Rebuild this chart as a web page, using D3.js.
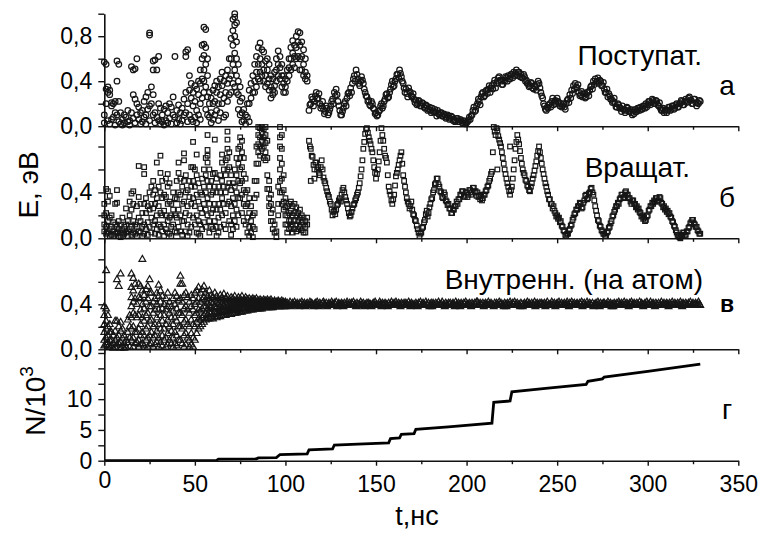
<!DOCTYPE html>
<html>
<head>
<meta charset="utf-8">
<script src="https://cdn.jsdelivr.net/npm/d3@7"></script>
<style>
  body { margin: 0; background: #fff; }
  svg { display: block; font-family: "Liberation Sans", Arial, sans-serif; }
</style>
</head>
<body>
<svg id="chart" width="766" height="538"></svg>
<script>
// ---- data ----
// early, scattered part: one column of values per ns, index = t
const transEarly = [
  [0.57,0.1,0.03],[0.55,0.33,0.2],[0.35,0.3,0.05],[0.32,0.28,0.02],[0.21,0.18,0.06],[0.2,0.08],[0.22,0.12,0.01],[0.58,0.4,0.1],[0.55,0.22,0.04],[0.12,0.02],
  [0.06,0.01],[0.1,0.03],[0.08],[0.14,0.04],[0.05,0.01],[0.53,0.12],[0.5,0.28,0.07],[0.51,0.24,0.03],[0.6,0.2,0.1],[0.17,0.06],
  [0.12,0.02],[0.14,0.04],[0.22,0.08],[0.26,0.1,0.02],[0.3,0.15],[0.83,0.81,0.18,0.05],[0.35,0.2],[0.58,0.5,0.28,0.1],[0.59,0.12,0.03],[0.5,0.08],
  [0.62,0.2,0.05],[0.16,0.02],[0.1,0.04],[0.15,0.01],[0.18,0.05],[0.12,0.03],[0.2,0.07],[0.17,0.02],[0.26,0.1],[0.62,0.08],
  [0.14,0.03],[0.19,0.06],[0.12,0.02],[0.16,0.05],[0.24,0.1],[0.66,0.62,0.3,0.12],[0.68,0.2,0.04],[0.45,0.32,0.1],[0.38,0.25,0.06],[0.3,0.18,0.04],
  [0.36,0.22,0.08],[0.33,0.14,0.03],[0.4,0.28,0.1],[0.5,0.38,0.2,0.06],[0.72,0.6,0.42,0.25],[0.88,0.73,0.63,0.5,0.4,0.3],[0.86,0.7,0.55,0.35,0.15],[0.6,0.45,0.26,0.1],[0.3,0.2,0.08],[0.25,0.12,0.03],
  [0.32,0.2,0.06],[0.36,0.22,0.1],[0.4,0.3,0.14],[0.35,0.2,0.05],[0.42,0.28,0.12],[0.48,0.36,0.2],[0.4,0.25,0.08],[0.45,0.3,0.1],[0.5,0.38,0.22],[0.6,0.42,0.28],
  [0.78,0.6,0.45,0.3],[0.95,0.85,0.72,0.55,0.38],[1.0,0.97,0.9,0.8,0.65,0.5,0.35],[0.92,0.75,0.6,0.45,0.3],[0.55,0.4,0.28,0.15],[0.35,0.22,0.1],[0.25,0.12,0.04],[0.15,0.05],[0.1,0.02],[0.2,0.08],
  [0.32,0.2,0.04],[0.38,0.25],[0.45,0.3],[0.55,0.4,0.3],[0.62,0.48,0.35],[0.7,0.55,0.42],[0.74,0.6,0.48,0.4],[0.68,0.55,0.45],[0.66,0.5,0.4],[0.58,0.45,0.35],
  [0.6,0.5,0.38],[0.55,0.42,0.32],[0.45,0.35,0.25],[0.42,0.32,0.28],[0.48,0.36,0.3],[0.6,0.5,0.4],[0.67,0.55,0.45],[0.62,0.52,0.42],[0.55,0.45,0.35],[0.45,0.38,0.3],
  [0.42,0.35,0.3],[0.5,0.4],[0.6,0.52,0.45],[0.7,0.6,0.5],[0.76,0.65,0.55],[0.72,0.62,0.52],[0.8,0.7,0.6],[0.84,0.75,0.62],[0.83,0.72,0.6,0.5],[0.75,0.62,0.5],
  [0.68,0.55,0.45],[0.6,0.48,0.42],[0.45,0.4]
];
// later, continuous part: one value every half ns from traceStart
const traceStep = 0.5;
const transTraceStart = 113;
const transTrace = [
  0.14,0.19,0.2,0.26,0.24,0.18,0.22,0.27,0.3,0.24,
  0.25,0.29,0.2,0.16,0.18,0.22,0.15,0.11,0.13,0.18,
  0.16,0.1,0.12,0.15,0.18,0.22,0.24,0.2,0.3,0.27,
  0.33,0.28,0.22,0.18,0.14,0.1,0.1,0.13,0.16,0.2,
  0.22,0.18,0.25,0.29,0.3,0.27,0.34,0.3,0.38,0.42,
  0.45,0.4,0.5,0.46,0.42,0.38,0.36,0.4,0.44,0.41,
  0.38,0.33,0.3,0.27,0.26,0.22,0.23,0.19,0.18,0.22,
  0.2,0.16,0.15,0.11,0.12,0.09,0.1,0.13,0.14,0.18,
  0.2,0.16,0.18,0.22,0.24,0.28,0.29,0.25,0.26,0.3,
  0.33,0.37,0.4,0.35,0.36,0.4,0.42,0.46,0.46,0.43,
  0.5,0.47,0.44,0.4,0.38,0.34,0.3,0.33,0.29,0.26,
  0.34,0.31,0.3,0.27,0.26,0.29,0.24,0.21,0.23,0.19,
  0.2,0.23,0.22,0.18,0.18,0.21,0.2,0.17,0.16,0.19,
  0.18,0.14,0.15,0.17,0.14,0.12,0.16,0.13,0.13,0.15,
  0.12,0.09,0.14,0.11,0.1,0.12,0.12,0.09,0.09,0.11,
  0.1,0.07,0.08,0.1,0.09,0.06,0.07,0.09,0.08,0.05,
  0.06,0.04,0.05,0.07,0.07,0.04,0.04,0.06,0.05,0.03,
  0.03,0.05,0.04,0.02,0.03,0.04,0.05,0.08,0.06,0.09,
  0.1,0.14,0.17,0.13,0.14,0.18,0.2,0.24,0.22,0.19,
  0.26,0.29,0.3,0.26,0.27,0.31,0.32,0.29,0.33,0.36,
  0.3,0.34,0.36,0.33,0.38,0.41,0.34,0.38,0.4,0.43,
  0.44,0.41,0.4,0.37,0.37,0.41,0.4,0.44,0.43,0.4,
  0.45,0.42,0.42,0.46,0.46,0.43,0.48,0.45,0.47,0.5,
  0.45,0.48,0.48,0.44,0.46,0.43,0.43,0.46,0.44,0.4,
  0.41,0.38,0.38,0.35,0.36,0.39,0.38,0.34,0.33,0.36,
  0.35,0.32,0.37,0.4,0.38,0.34,0.3,0.27,0.25,0.2,
  0.18,0.15,0.14,0.17,0.16,0.19,0.2,0.17,0.22,0.25,
  0.19,0.22,0.23,0.2,0.25,0.22,0.21,0.18,0.2,0.17,
  0.18,0.2,0.17,0.15,0.2,0.23,0.24,0.21,0.28,0.25,
  0.32,0.29,0.36,0.33,0.38,0.35,0.34,0.37,0.3,0.27,
  0.28,0.31,0.26,0.29,0.29,0.25,0.26,0.3,0.3,0.27,
  0.32,0.35,0.36,0.33,0.4,0.37,0.42,0.39,0.4,0.43,
  0.38,0.41,0.4,0.36,0.36,0.39,0.33,0.3,0.3,0.33,
  0.26,0.29,0.27,0.24,0.24,0.21,0.22,0.25,0.2,0.17,
  0.17,0.2,0.19,0.16,0.16,0.13,0.18,0.15,0.15,0.12,
  0.14,0.17,0.16,0.13,0.13,0.15,0.12,0.1,0.14,0.11,
  0.15,0.13,0.13,0.16,0.16,0.14,0.17,0.15,0.15,0.18,
  0.18,0.16,0.2,0.17,0.19,0.22,0.22,0.19,0.21,0.24,
  0.23,0.2,0.2,0.23,0.22,0.19,0.18,0.21,0.16,0.14,
  0.14,0.16,0.12,0.14,0.15,0.12,0.14,0.17,0.17,0.14,
  0.15,0.18,0.18,0.15,0.16,0.19,0.2,0.17,0.17,0.2,
  0.2,0.23,0.22,0.19,0.19,0.22,0.24,0.21,0.22,0.25,
  0.26,0.23,0.23,0.2,0.2,0.24,0.24,0.21,0.18,0.21,
  0.2,0.23,0.22
];

const rotEarly = [
  [0.3,0.2,0.12,0.06],[0.43,0.22,0.1,0.04],[0.41,0.32,0.15,0.05],[0.37,0.18,0.08,0.02],[0.2,0.1,0.03],[0.14,0.06,0.02],[0.3,0.12,0.04],[0.42,0.31,0.1,0.05],[0.15,0.08,0.02],[0.12,0.05,0.01],
  [0.18,0.07,0.03],[0.1,0.04],[0.26,0.12,0.05],[0.15,0.06,0.02],[0.32,0.2,0.08],[0.39,0.25,0.1,0.03],[0.41,0.3,0.15,0.05],[0.12,0.04],[0.28,0.1,0.02],[0.63,0.36,0.18,0.06],
  [0.3,0.15,0.05],[0.22,0.1,0.02],[0.62,0.56,0.3,0.12,0.04],[0.35,0.22,0.08],[0.28,0.14,0.03],[0.4,0.25,0.1],[0.45,0.3,0.18,0.05],[0.5,0.38,0.26,0.12],[0.42,0.3,0.15,0.04],[0.66,0.35,0.2,0.08],
  [0.45,0.28,0.12,0.03],[0.72,0.57,0.4,0.22,0.1],[0.5,0.35,0.2,0.06],[0.38,0.24,0.12,0.02],[0.52,0.36,0.2,0.08],[0.56,0.45,0.3,0.15,0.05],[0.48,0.32,0.18,0.04],[0.3,0.2,0.1,0.02],[0.4,0.25,0.12],[0.35,0.2,0.06],
  [0.5,0.34,0.18,0.05],[0.66,0.57,0.4,0.25,0.1],[0.52,0.38,0.2,0.06],[0.45,0.3,0.15,0.03],[0.74,0.68,0.5,0.32,0.15],[0.55,0.4,0.22,0.06],[0.42,0.28,0.12,0.02],[0.5,0.36,0.2,0.05],[0.62,0.45,0.3,0.1],[0.84,0.62,0.5,0.35,0.18],
  [0.6,0.45,0.28,0.12],[0.73,0.55,0.38,0.2,0.05],[0.48,0.32,0.15,0.04],[0.4,0.26,0.12,0.02],[0.52,0.38,0.22,0.08],[0.6,0.45,0.3,0.14],[0.7,0.55,0.4,0.25,0.1],[0.9,0.77,0.72,0.66,0.5,0.35,0.2],[0.6,0.45,0.3,0.15,0.05],[0.5,0.38,0.22,0.1],
  [0.56,0.4,0.25,0.08],[0.86,0.57,0.45,0.3,0.15],[0.52,0.4,0.25,0.1,0.02],[0.45,0.3,0.18,0.05],[0.55,0.4,0.25,0.1],[0.73,0.66,0.5,0.35,0.2],[0.6,0.45,0.3,0.12],[0.68,0.55,0.4,0.22,0.08],[0.93,0.86,0.78,0.7,0.6,0.45,0.3],[0.75,0.62,0.48,0.32,0.15],
  [0.55,0.42,0.28,0.12,0.03],[0.48,0.35,0.2,0.08],[0.6,0.45,0.3,0.15],[0.7,0.55,0.4,0.25,0.1],[0.78,0.65,0.5,0.35,0.2],[0.88,0.8,0.7,0.6,0.48,0.35],[0.85,0.75,0.62,0.5,0.38,0.22],[0.7,0.56,0.42,0.3,0.15],[0.52,0.4,0.28,0.12],[0.42,0.3,0.18,0.05],
  [0.35,0.22,0.1,0.02],[0.28,0.15,0.05],[0.2,0.1,0.01],[0.5,0.35,0.22,0.08],[0.8,0.65,0.5,0.38],[0.97,0.9,0.82,0.75,0.65],[0.96,0.88,0.8,0.72],[0.97,0.92,0.85,0.78],[0.95,0.88,0.8,0.7],[0.97,0.9,0.83,0.75,0.68],
  [0.85,0.7,0.55,0.43],[0.5,0.43,0.35,0.28],[0.38,0.3,0.22,0.15],[0.25,0.15,0.08],[0.12,0.05],[0.06,0.01],[0.45,0.3,0.2],[0.97,0.88,0.8,0.7,0.6,0.5,0.4],[0.9,0.78,0.65,0.52,0.4,0.3],[0.55,0.42,0.32,0.25],
  [0.35,0.27,0.2,0.12],[0.28,0.2,0.12,0.05],[0.3,0.22,0.15,0.08],[0.32,0.24,0.16,0.1],[0.28,0.2,0.12,0.05],[0.3,0.22,0.15,0.08],[0.27,0.2,0.12,0.06],[0.22,0.15,0.08],[0.25,0.18,0.1],[0.2,0.14,0.07],
  [0.18,0.12,0.05],[0.15,0.1,0.05],[0.18,0.12]
];
const rotTraceStart = 113;
const rotTrace = [
  0.85,0.8,0.78,0.72,0.71,0.64,0.6,0.66,0.66,0.6,
  0.62,0.57,0.55,0.62,0.68,0.6,0.53,0.5,0.48,0.44,
  0.41,0.38,0.36,0.32,0.3,0.25,0.2,0.23,0.24,0.21,
  0.25,0.29,0.3,0.33,0.35,0.32,0.38,0.42,0.44,0.4,
  0.36,0.33,0.3,0.26,0.22,0.19,0.2,0.23,0.26,0.29,
  0.3,0.33,0.35,0.38,0.4,0.44,0.48,0.54,0.6,0.68,
  0.78,0.84,0.91,0.95,0.96,0.92,0.88,0.85,0.82,0.78,
  0.75,0.68,0.62,0.57,0.52,0.56,0.6,0.67,0.75,0.85,
  0.96,0.9,0.85,0.78,0.72,0.7,0.66,0.55,0.45,0.41,
  0.38,0.33,0.3,0.34,0.38,0.46,0.54,0.57,0.6,0.64,
  0.68,0.72,0.75,0.65,0.55,0.5,0.45,0.4,0.35,0.32,
  0.3,0.26,0.28,0.32,0.25,0.21,0.2,0.16,0.15,0.11,
  0.08,0.05,0.02,0.04,0.05,0.09,0.1,0.14,0.16,0.21,
  0.24,0.19,0.22,0.27,0.3,0.34,0.35,0.4,0.42,0.47,
  0.48,0.52,0.52,0.47,0.45,0.41,0.4,0.36,0.35,0.4,
  0.38,0.33,0.32,0.29,0.3,0.26,0.26,0.22,0.22,0.25,
  0.25,0.28,0.28,0.32,0.3,0.34,0.34,0.38,0.38,0.41,
  0.41,0.37,0.36,0.4,0.4,0.36,0.38,0.42,0.42,0.38,
  0.4,0.44,0.44,0.41,0.41,0.37,0.4,0.36,0.37,0.34,
  0.38,0.33,0.35,0.38,0.38,0.41,0.42,0.45,0.46,0.5,
  0.52,0.56,0.58,0.75,0.97,0.93,0.9,0.96,0.94,0.89,
  0.86,0.83,0.8,0.75,0.7,0.65,0.6,0.56,0.52,0.48,
  0.45,0.41,0.38,0.42,0.45,0.52,0.6,0.68,0.78,0.84,
  0.9,0.86,0.82,0.76,0.7,0.65,0.6,0.57,0.55,0.51,
  0.5,0.46,0.45,0.42,0.41,0.45,0.48,0.52,0.55,0.59,
  0.63,0.67,0.72,0.76,0.8,0.75,0.7,0.65,0.6,0.56,
  0.52,0.48,0.45,0.41,0.38,0.34,0.34,0.3,0.3,0.26,
  0.28,0.24,0.22,0.19,0.2,0.17,0.18,0.14,0.15,0.11,
  0.1,0.07,0.06,0.03,0.02,0.04,0.04,0.07,0.08,0.11,
  0.12,0.16,0.18,0.21,0.22,0.25,0.25,0.28,0.28,0.31,
  0.3,0.26,0.27,0.31,0.33,0.37,0.38,0.34,0.35,0.39,
  0.4,0.43,0.44,0.4,0.38,0.33,0.28,0.24,0.2,0.16,
  0.15,0.11,0.1,0.07,0.06,0.04,0.04,0.02,0.02,0.05,
  0.06,0.09,0.1,0.13,0.15,0.19,0.2,0.23,0.25,0.28,
  0.28,0.31,0.3,0.34,0.35,0.38,0.38,0.35,0.36,0.4,
  0.41,0.38,0.38,0.35,0.35,0.32,0.3,0.33,0.33,0.3,
  0.3,0.27,0.28,0.25,0.26,0.23,0.22,0.19,0.2,0.17,
  0.18,0.15,0.16,0.19,0.2,0.24,0.25,0.28,0.28,0.31,
  0.3,0.33,0.32,0.35,0.35,0.32,0.33,0.36,0.35,0.31,
  0.3,0.27,0.28,0.25,0.26,0.23,0.24,0.21,0.22,0.19,
  0.18,0.15,0.14,0.11,0.1,0.07,0.05,0.03,0.02,0.01,
  0.0,0.02,0.03,0.05,0.05,0.03,0.03,0.06,0.06,0.09,
  0.1,0.13,0.14,0.16,0.16,0.13,0.12,0.1,0.1,0.07,
  0.06,0.04,0.04
];
const rotExtra = [[217, 0.6], [224, 0.8], [114, 0.5], [116, 0.52]];

const innerEarly = [
  [0.38,0.3,0.22,0.15,0.08,0.03],[0.7,0.36,0.25,0.18,0.1,0.04],[0.3,0.2,0.12,0.06,0.02],[0.22,0.15,0.08,0.02],[0.15,0.08,0.03],[0.12,0.05,0.01],[0.25,0.16,0.08,0.02],[0.62,0.25,0.1,0.04],[0.56,0.2,0.12,0.05],[0.67,0.24,0.16,0.06,0.01],
  [0.18,0.1,0.03],[0.12,0.05,0.01],[0.08,0.02],[0.26,0.15,0.06],[0.3,0.2,0.1,0.02],[0.67,0.55,0.46,0.38,0.28,0.18,0.08],[0.63,0.52,0.42,0.32,0.2,0.1,0.02],[0.58,0.45,0.3,0.15,0.05],[0.4,0.28,0.15,0.06],[0.58,0.46,0.3,0.18,0.08,0.02],
  [0.56,0.45,0.35,0.22,0.12,0.04],[0.8,0.52,0.4,0.28,0.15,0.05],[0.48,0.36,0.25,0.12,0.03],[0.53,0.42,0.3,0.18,0.08],[0.56,0.45,0.32,0.2,0.1,0.02],[0.62,0.5,0.38,0.25,0.12,0.04],[0.5,0.38,0.26,0.15,0.05],[0.42,0.32,0.2,0.1,0.02],[0.45,0.35,0.22,0.12,0.04],[0.5,0.4,0.28,0.16,0.06],
  [0.57,0.47,0.35,0.22,0.1,0.02],[0.52,0.42,0.3,0.18,0.06],[0.47,0.36,0.25,0.12,0.03],[0.4,0.3,0.18,0.08],[0.45,0.35,0.22,0.1,0.02],[0.5,0.38,0.26,0.14,0.04],[0.42,0.32,0.2,0.08],[0.38,0.28,0.16,0.05],[0.45,0.34,0.22,0.1,0.02],[0.5,0.4,0.28,0.15,0.05],
  [0.47,0.36,0.25,0.12,0.03],[0.43,0.32,0.2,0.08],[0.65,0.58,0.45,0.32,0.2,0.08],[0.58,0.42,0.3,0.18,0.05],[0.48,0.36,0.24,0.12,0.02],[0.5,0.38,0.26,0.14,0.04],[0.46,0.35,0.22,0.1],[0.42,0.32,0.2,0.08,0.02],[0.48,0.38,0.26,0.14,0.04],[0.45,0.35,0.22,0.1,0.02],
  [0.5,0.4,0.3,0.2,0.08],[0.52,0.42,0.32,0.24,0.14],[0.55,0.45,0.35,0.27,0.18],[0.5,0.42,0.34,0.26,0.2],[0.53,0.44,0.36,0.28,0.22],[0.56,0.46,0.38,0.3,0.24],[0.5,0.44,0.38,0.32,0.26],[0.47,0.41,0.36,0.31,0.27],[0.52,0.45,0.39,0.33,0.27],[0.48,0.42,0.37,0.32,0.28],
  [0.46,0.41,0.36,0.31,0.27],[0.5,0.44,0.38,0.33,0.29],[0.47,0.42,0.37,0.32,0.28],[0.45,0.4,0.36,0.32,0.29],[0.48,0.43,0.38,0.33,0.29],[0.46,0.41,0.37,0.33,0.3],[0.49,0.44,0.39,0.34,0.3],[0.45,0.41,0.37,0.33,0.3],[0.47,0.43,0.38,0.34,0.31],[0.44,0.4,0.37,0.34,0.31],
  [0.46,0.42,0.38,0.35,0.31],[0.45,0.41,0.38,0.35,0.32],[0.47,0.43,0.39,0.35,0.32],[0.44,0.41,0.38,0.35,0.32],[0.46,0.42,0.39,0.36,0.33],[0.45,0.42,0.39,0.36,0.33],[0.47,0.43,0.4,0.37,0.33],[0.44,0.41,0.39,0.36,0.34],[0.46,0.43,0.4,0.37,0.34],[0.44,0.41,0.39,0.37,0.34],
  [0.45,0.42,0.4,0.37,0.35],[0.44,0.42,0.39,0.37,0.35],[0.45,0.43,0.4,0.38,0.35],[0.44,0.42,0.4,0.38,0.36],[0.45,0.42,0.4,0.38,0.36],[0.43,0.41,0.39,0.37,0.36],[0.44,0.42,0.4,0.38,0.36],[0.43,0.41,0.39,0.38,0.36],[0.44,0.42,0.4,0.38,0.37],[0.43,0.41,0.4,0.38,0.37],
  [0.44,0.42,0.4,0.39,0.37],[0.43,0.41,0.4,0.38,0.37],[0.44,0.42,0.4,0.39,0.37],[0.42,0.41,0.4,0.38,0.37],[0.43,0.42,0.4,0.39,0.38],[0.42,0.41,0.4,0.39,0.38],[0.43,0.42,0.4,0.39,0.38],[0.42,0.41,0.4,0.39,0.38],[0.43,0.41,0.4,0.39,0.38],[0.42,0.41,0.4,0.39,0.38],
  [0.42,0.41,0.4,0.39,0.38]
];
const innerTraceStart = 101;
const innerTrace = [
  0.41,0.39,0.40,0.42,0.38,0.40,0.41,0.39,0.42,0.40,
  0.39,0.41,0.40,0.38,0.41,0.40,0.42,0.39,0.40,0.41,
  0.38,0.40,0.41,0.39,0.40,0.42,0.39,0.41,0.40,0.38,
  0.40,0.41,0.39,0.42,0.40,0.38,0.41,0.40,0.39,0.41,
  0.42,0.40,0.39,0.41,0.38,0.40,0.41,0.39,0.40,0.42,
  0.40,0.39,0.41,0.40,0.42,0.38,0.40,0.41,0.39,0.40,
  0.41,0.40,0.38,0.41,0.39,0.40,0.42,0.40,0.39,0.41,
  0.39,0.41,0.40,0.42,0.39,0.40,0.38,0.41,0.40,0.39,
  0.40,0.42,0.39,0.40,0.41,0.38,0.40,0.39,0.41,0.40,
  0.41,0.39,0.40,0.38,0.40,0.41,0.39,0.42,0.40,0.39,
  0.39,0.40,0.42,0.40,0.38,0.41,0.40,0.39,0.41,0.40,
  0.40,0.38,0.41,0.39,0.40,0.42,0.39,0.40,0.41,0.39,
  0.42,0.40,0.39,0.41,0.40,0.38,0.41,0.40,0.39,0.41,
  0.39,0.41,0.40,0.39,0.42,0.40,0.38,0.41,0.40,0.39,
  0.40,0.39,0.41,0.40,0.38,0.41,0.40,0.42,0.39,0.40,
  0.41,0.40,0.39,0.42,0.40,0.39,0.41,0.38,0.40,0.41,
  0.38,0.41,0.40,0.39,0.41,0.40,0.39,0.42,0.40,0.39,
  0.40,0.42,0.39,0.40,0.38,0.41,0.40,0.39,0.41,0.40,
  0.41,0.39,0.40,0.41,0.40,0.38,0.42,0.40,0.39,0.41,
  0.40,0.38,0.41,0.40,0.39,0.41,0.40,0.42,0.39,0.40,
  0.39,0.41,0.40,0.38,0.41,0.40,0.39,0.41,0.40,0.42,
  0.42,0.40,0.39,0.41,0.40,0.39,0.41,0.38,0.40,0.41,
  0.40,0.39,0.42,0.40,0.39,0.41,0.40,0.39,0.38,0.41,
  0.39,0.41,0.40,0.39,0.42,0.40,0.41,0.39,0.40,0.38,
  0.41,0.40,0.38,0.41,0.40,0.39,0.42,0.40,0.39,0.41,
  0.40,0.42,0.39,0.40,0.41,0.39,0.40,0.38,0.41,0.40,
  0.38,0.40,0.41,0.39,0.40,0.42,0.39,0.41,0.40,0.39,
  0.41,0.39,0.40,0.42,0.38,0.40,0.41,0.40,0.39,0.41,
  0.40,0.41,0.39,0.40,0.41,0.38,0.40,0.42,0.39,0.40,
  0.39,0.40,0.42,0.39,0.40,0.41,0.38,0.40,0.41,0.39,
  0.42,0.40,0.39,0.41,0.39,0.40,0.41,0.39,0.40,0.42,
  0.40,0.38,0.41,0.40,0.42,0.39,0.40,0.41,0.39,0.40,
  0.41,0.40,0.39,0.41,0.40,0.42,0.38,0.40,0.41,0.39,
  0.39,0.42,0.40,0.39,0.41,0.40,0.39,0.41,0.38,0.40,
  0.40,0.41,0.39,0.42,0.40,0.38,0.41,0.39,0.40,0.41,
  0.41,0.39,0.40,0.40,0.42,0.39,0.40,0.41,0.38,0.40,
  0.38,0.41,0.40,0.39,0.41,0.40,0.42,0.40,0.39,0.41,
  0.40,0.39,0.42,0.40,0.39,0.41,0.40,0.38,0.41,0.40,
  0.42,0.40,0.39,0.41,0.40,0.39,0.41,0.40,0.39,0.42,
  0.39,0.41,0.40,0.38,0.40,0.41,0.39,0.42,0.40,0.39,
  0.40,0.42,0.39,0.40,0.41,0.40,0.38,0.41,0.40,0.39,
  0.41,0.39,0.40,0.42,0.39,0.40,0.41,0.39,0.40,0.41,
  0.40,0.38,0.41,0.40,0.39,0.42,0.40,0.39,0.41,0.40,
  0.39,0.41,0.40,0.39,0.42,0.40,0.38,0.41,0.40,0.39,
  0.41,0.40,0.39,0.41,0.40,0.42,0.39,0.40,0.41,0.39,
  0.40,0.41,0.39,0.40,0.42,0.40,0.39
];

// number of ejected molecules, thousands
const countT = [0, 62, 63, 84, 85, 95, 97, 112, 113, 126, 127, 140, 157, 158, 163, 164, 171, 172, 190, 214, 215, 224, 225, 245, 266, 267, 275, 276, 300, 329];
const countN = [0, 0.05, 0.25, 0.3, 0.45, 0.5, 1.0, 1.1, 1.75, 1.9, 2.55, 2.7, 2.9, 3.6, 3.7, 4.3, 4.4, 5.1, 5.5, 6.1, 9.5, 9.7, 11.2, 11.8, 12.4, 12.9, 13.3, 13.6, 14.5, 15.7];

const xTicks = [0, 25, 50, 75, 100, 125, 150, 175, 200, 225, 250, 275, 300, 325, 350];
const xLabels = [0, 50, 100, 150, 200, 250, 300, 350];
const eTicks = [0, 0.2, 0.4, 0.6, 0.8, 1.0];
const eLabelsTop = [0, 0.4, 0.8];
const eLabels = [0, 0.4];
const nTicks = [0, 2.5, 5, 7.5, 10, 12.5, 15, 17.5];
const nLabels = [0, 5, 10];

// ---- drawing ----
const svg = d3.select('#chart');
const ink = '#111';
const markStroke = '#161616';

const x = d3.scaleLinear().domain([0, 350]).range([104.3, 738.3]);

const yA = d3.scaleLinear().domain([0, 1]).range([126.2, 13.7]);
const yB = d3.scaleLinear().domain([0, 0.977]).range([238.3, 126.2]);
const yC = d3.scaleLinear().domain([0, 0.987]).range([349.3, 238.3]);
const yD = d3.scaleLinear().domain([0, 18.1]).range([460.7, 349.3]);

// columns + trace -> list of [t, value]
function toPoints(early, traceStart, trace, extra) {
  const pts = [];
  early.forEach((col, t) => col.forEach((v) => pts.push([t, v])));
  trace.forEach((v, i) => pts.push([traceStart + i * traceStep, v]));
  (extra || []).forEach((p) => pts.push(p));
  return pts;
}

const transPts = toPoints(transEarly, transTraceStart, transTrace);
const rotPts = toPoints(rotEarly, rotTraceStart, rotTrace, rotExtra);
const innerPts = toPoints(innerEarly, innerTraceStart, innerTrace);

const fmtE = (labels) => (d) => (labels.includes(d) ? d3.format('.1f')(d).replace('.', ',') : '');

function leftAxis(y, ticks, format) {
  const g = svg.append('g').attr('transform', `translate(${x(0)},0)`);
  g.call(d3.axisLeft(y).tickValues(ticks).tickSize(6).tickSizeOuter(0).tickPadding(6).tickFormat(format));
  g.select('.domain').attr('stroke', ink).attr('stroke-width', 1.6);
  g.selectAll('.tick line').attr('stroke', ink).attr('stroke-width', 1.4);
  g.selectAll('.tick text').attr('font-size', 23).attr('fill', '#000').attr('font-family', 'Liberation Sans, Arial, sans-serif');
  return g;
}

function bottomAxis(y0, withLabels) {
  const g = svg.append('g').attr('transform', `translate(0,${y0})`);
  g.call(d3.axisBottom(x).tickValues(xTicks).tickSize(5).tickSizeOuter(0)
    .tickFormat((d) => (withLabels && xLabels.includes(d) ? d : '')));
  g.select('.domain').attr('stroke', ink).attr('stroke-width', 1.6);
  g.selectAll('.tick line').attr('stroke', ink).attr('stroke-width', 1.4)
    .attr('y2', (d) => (d % 50 === 0 ? 5 : 3.5));
  g.selectAll('.tick text').attr('font-size', 23).attr('fill', '#000')
    .attr('font-family', 'Liberation Sans, Arial, sans-serif')
    .attr('y', (d) => (d === 0 ? 11 : 15));
  return g;
}

// panel а: circles
svg.append('g').selectAll('circle').data(transPts).join('circle')
  .attr('cx', (d) => x(d[0])).attr('cy', (d) => yA(d[1])).attr('r', 2.8)
  .attr('fill', 'none').attr('stroke', markStroke).attr('stroke-width', 1.25);

// panel б: squares
svg.append('g').selectAll('rect').data(rotPts).join('rect')
  .attr('x', (d) => x(d[0]) - 2.3).attr('y', (d) => yB(d[1]) - 2.3)
  .attr('width', 4.6).attr('height', 4.6)
  .attr('fill', 'none').attr('stroke', markStroke).attr('stroke-width', 1.2);

// panel в: triangles
const tri = d3.symbol().type(d3.symbolTriangle).size(20);
svg.append('g').selectAll('path').data(innerPts).join('path')
  .attr('d', tri)
  .attr('transform', (d) => `translate(${x(d[0])},${yC(d[1])})`)
  .attr('fill', 'none').attr('stroke', markStroke).attr('stroke-width', 1.2);

// panel г: count line
const countLine = d3.line().x((d) => x(d[0])).y((d) => yD(d[1]));
svg.append('path')
  .datum(countT.map((t, i) => [t, countN[i]]))
  .attr('d', countLine)
  .attr('fill', 'none').attr('stroke', '#000').attr('stroke-width', 2.8);

// axes
leftAxis(yA, eTicks, fmtE(eLabelsTop));
leftAxis(yB, eTicks.slice(0, 5), fmtE(eLabels));
leftAxis(yC, eTicks.slice(0, 5), fmtE(eLabels));
leftAxis(yD, nTicks, (d) => (nLabels.includes(d) ? d : ''));
bottomAxis(yA(0), false);
bottomAxis(yB(0), false);
bottomAxis(yC(0), false);
bottomAxis(yD(0), true);

// axis titles
svg.append('text')
  .attr('transform', 'translate(38,185) rotate(-90)')
  .attr('text-anchor', 'middle').attr('font-size', 28)
  .text('E, эВ');

const nt = svg.append('text')
  .attr('transform', 'translate(45,401) rotate(-90)')
  .attr('text-anchor', 'middle').attr('font-size', 28);
nt.append('tspan').text('N/10');
nt.append('tspan').attr('font-size', 19).attr('dy', -12).text('3');

svg.append('text')
  .attr('x', 417).attr('y', 525)
  .attr('text-anchor', 'middle').attr('font-size', 27)
  .text('t,нс');

// panel annotations
const notes = [
  { text: 'Поступат.', x: 702, y: 65, anchor: 'end', size: 28 },
  { text: 'а', x: 727, y: 95, anchor: 'middle', size: 28 },
  { text: 'Вращат.', x: 690, y: 177, anchor: 'end', size: 28 },
  { text: 'б', x: 727, y: 207, anchor: 'middle', size: 28 },
  { text: 'Внутренн. (на атом)', x: 703, y: 289, anchor: 'end', size: 28 },
  { text: 'в', x: 727, y: 312, anchor: 'middle', size: 23, weight: 'bold' },
  { text: 'г', x: 727, y: 419, anchor: 'middle', size: 28 }
];
notes.forEach((n) => {
  svg.append('text')
    .attr('x', n.x).attr('y', n.y)
    .attr('text-anchor', n.anchor)
    .attr('font-size', n.size)
    .attr('font-weight', n.weight || 'normal')
    .text(n.text);
});
</script>
</body>
</html>
